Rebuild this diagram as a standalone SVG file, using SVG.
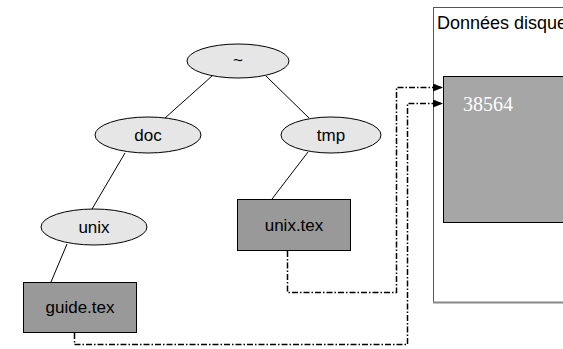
<svg xmlns="http://www.w3.org/2000/svg" width="563" height="349" viewBox="0 0 563 349">
<style>
.ell{fill:#e6e6e6;stroke:#000;stroke-width:1}
.file{fill:#999;stroke:#000;stroke-width:1}
.lbl{font-family:"Liberation Sans",Arial,sans-serif;font-size:17px;fill:#000;text-anchor:middle}
.edge{stroke:#000;stroke-width:1;fill:none}
.link{stroke:#000;stroke-width:1.5;fill:none;stroke-dasharray:6,2,1.5,2}
</style>
<defs>
<marker id="arr" viewBox="0 0 10 8" refX="10" refY="4" markerWidth="10" markerHeight="8" markerUnits="userSpaceOnUse" orient="auto">
<path d="M0,0 L10,4 L0,8 z" fill="#000"/>
</marker>
</defs>
<rect width="563" height="349" fill="#fff"/>
<g id="disk">
<rect x="433.5" y="7.5" width="140" height="295" fill="#fff" stroke="#555" stroke-width="1"/>
<line x1="433" y1="302.5" x2="563" y2="302.5" stroke="#888" stroke-width="2"/>
<text x="437" y="29" font-family="'Liberation Sans',Arial,sans-serif" font-size="18" fill="#000">Données disque</text>
<rect x="443.5" y="76.5" width="130" height="146" fill="#a6a6a6" stroke="#000" stroke-width="1"/>
<text x="463" y="111" font-family="'Liberation Serif','Times New Roman',serif" font-size="20" fill="#fff">38564</text>
</g>
<g id="edges">
<line class="edge" x1="212" y1="76" x2="165" y2="118"/>
<line class="edge" x1="266" y1="76" x2="309" y2="118"/>
<line class="edge" x1="125" y1="153" x2="92" y2="209"/>
<line class="edge" x1="67" y1="244" x2="51" y2="282"/>
<line class="edge" x1="308" y1="152" x2="272" y2="199"/>
</g>
<g id="connectors">
<path class="link" d="M287.5,251 V292.5 H396.5 V87.5 H443" marker-end="url(#arr)"/>
<path class="link" d="M74.5,333 V344.5 H407.5 V103.5 H443" marker-end="url(#arr)"/>
</g>
<g id="root"><ellipse class="ell" cx="238" cy="61" rx="51" ry="17"/><text class="lbl" x="238" y="66">~</text></g>
<g id="doc"><ellipse class="ell" cx="148" cy="135" rx="53" ry="18"/><text class="lbl" x="148" y="141">doc</text></g>
<g id="tmp"><ellipse class="ell" cx="331" cy="135" rx="50" ry="18"/><text class="lbl" x="331" y="141">tmp</text></g>
<g id="unix"><ellipse class="ell" cx="94" cy="227" rx="53" ry="18"/><text class="lbl" x="94" y="233">unix</text></g>
<g id="guide"><rect class="file" x="23.5" y="282.5" width="113" height="50"/><text class="lbl" x="80" y="313">guide.tex</text></g>
<g id="unixtex"><rect class="file" x="237.5" y="199.5" width="113" height="51"/><text class="lbl" x="294" y="231">unix.tex</text></g>
</svg>
